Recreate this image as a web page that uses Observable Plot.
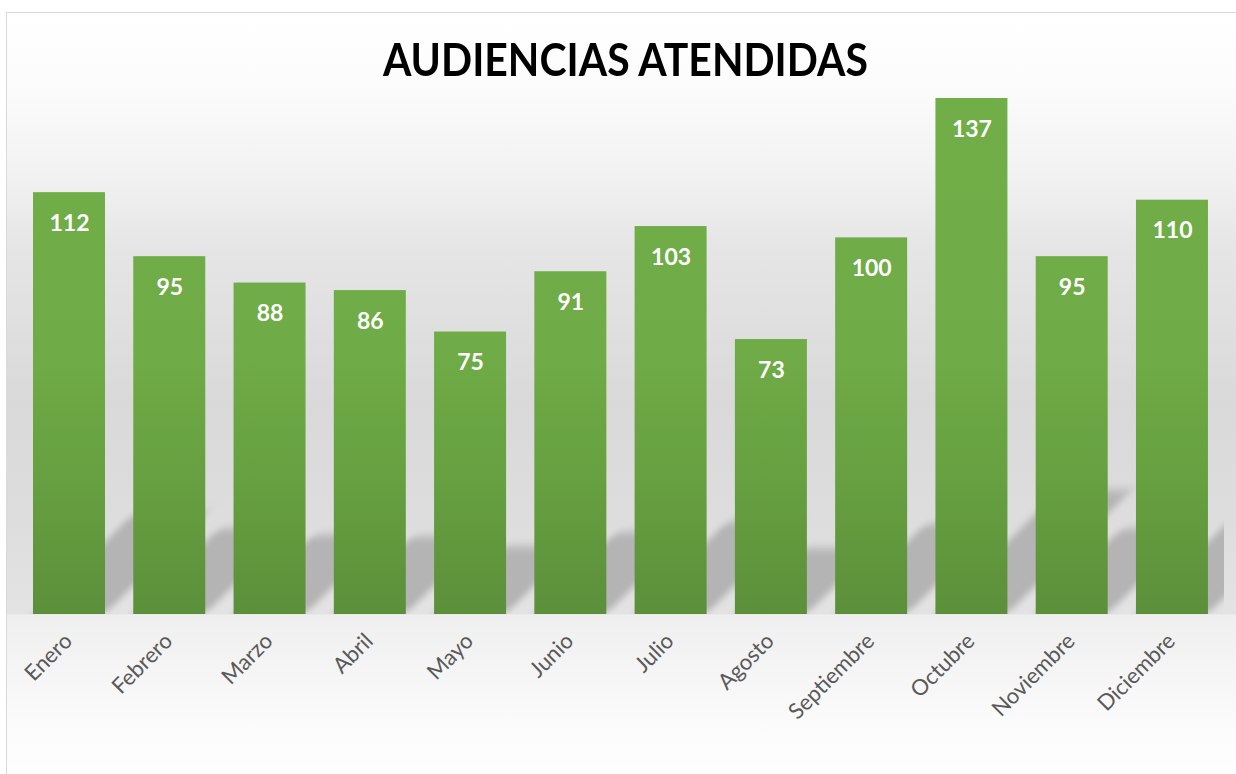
<!DOCTYPE html>
<html>
<head>
<meta charset="utf-8">
<script src="https://cdn.jsdelivr.net/npm/d3@7"></script>
<script src="https://cdn.jsdelivr.net/npm/@observablehq/plot@0.6"></script>
<style>
html, body { margin: 0; padding: 0; background: #ffffff; width: 1236px; height: 774px; overflow: hidden; }
#frame {
  position: absolute; left: 6px; top: 12px; width: 1260px; height: 800px;
  border: 1px solid #d9d9d9; box-sizing: border-box;
  background: linear-gradient(to bottom,
    #ffffff 0px, #fbfbfb 80px, #f1f1f1 168px, #e6e6e6 228px, #d9d9d9 388px,
    #dddddd 508px, #e3e3e3 601px, #efefef 602px, #f3f3f3 640px, #fafafa 700px, #ffffff 770px);
}
#title {
  position: absolute; top: 37px; left: 0; width: 1251px; text-align: center;
  font-family: Lato, "Open Sans", sans-serif; font-weight: bold; font-size: 45px; line-height: 45px; color: #000;
}
#title span { display: inline-block; transform-origin: 50% 50%; white-space: nowrap; }
#chart { position: absolute; left: 0; top: 80px; }
</style>
</head>
<body>
<div id="frame"></div>
<div id="title"><span>AUDIENCIAS ATENDIDAS</span></div>
<div id="chart"></div>
<script>
const titleText = "AUDIENCIAS ATENDIDAS";
const months = ["Enero", "Febrero", "Marzo", "Abril", "Mayo", "Junio", "Julio", "Agosto", "Septiembre", "Octubre", "Noviembre", "Diciembre"];
const values = [112, 95, 88, 86, 75, 91, 103, 73, 100, 137, 95, 110];

const data = months.map((m, i) => ({month: m, value: values[i]}));

// title width fit
const span = document.querySelector("#title span");
span.textContent = titleText;
const w = span.getBoundingClientRect().width;
span.style.transform = `scaleX(${485 / w})`;

const SHADOW = 0.24;

function shadowRender(index, scales, vals, dimensions, context, next) {
  const g = next(index, scales, vals, dimensions, context);
  const y0 = scales.y(0);
  g.setAttribute("transform", `translate(0,${y0}) skewX(-45) translate(0,${-y0})`);
  g.setAttribute("filter", "url(#shadowBlur)");
  const outer = document.createElementNS("http://www.w3.org/2000/svg", "g");
  outer.setAttribute("clip-path", "url(#plotClip)");
  outer.appendChild(g);
  return outer;
}

const chart = Plot.plot({
  width: 1236,
  height: 694,
  marginTop: 18,
  marginBottom: 160,
  marginLeft: 18.86,
  marginRight: 13.9,
  style: {background: "transparent", overflow: "visible"},
  x: {domain: months, paddingInner: 0.282, paddingOuter: 0.141, round: false, axis: null},
  y: {domain: [0, 137], axis: null},
  marks: [
    Plot.barY(data, {x: "month", y1: 0, y2: d => d.value * SHADOW, fill: "#b4b4b4", render: shadowRender}),
    Plot.barY(data, {x: "month", y: "value", fill: "url(#barGrad)"}),
    Plot.text(data, {x: "month", y: "value", text: d => String(d.value), dy: 38, lineAnchor: "bottom",
      fill: "#ffffff", fontWeight: "bold", fontSize: 23, fontFamily: "Lato, 'Open Sans', sans-serif"}),
    Plot.text(months, {x: d => d, frameAnchor: "bottom", rotate: -45, textAnchor: "end", lineAnchor: "bottom",
      dx: 4, dy: 28, fill: "#595959", fontSize: 22, fontFamily: "Lato, 'Open Sans', sans-serif"})
  ]
});

const ys = chart.scale("y");
const yTop = ys.apply(137), yBase = ys.apply(0);
const defs = d3.select(chart).insert("defs", ":first-child");
const grad = defs.append("linearGradient").attr("id", "barGrad")
  .attr("gradientUnits", "userSpaceOnUse").attr("x1", 0).attr("x2", 0).attr("y1", yTop).attr("y2", yBase);
[[0, "#71ae48"], [0.5, "#6fab46"], [0.74, "#66a040"], [1, "#5c8f3a"]].forEach(([o, c]) =>
  grad.append("stop").attr("offset", o).attr("stop-color", c));
defs.append("filter").attr("id", "shadowBlur").attr("x", "-20%").attr("y", "-20%").attr("width", "140%").attr("height", "140%")
  .append("feGaussianBlur").attr("stdDeviation", 5);
defs.append("clipPath").attr("id", "plotClip").append("rect")
  .attr("x", 0).attr("y", 0).attr("width", 1224).attr("height", yBase);

document.getElementById("chart").appendChild(chart);
</script>
</body>
</html>
